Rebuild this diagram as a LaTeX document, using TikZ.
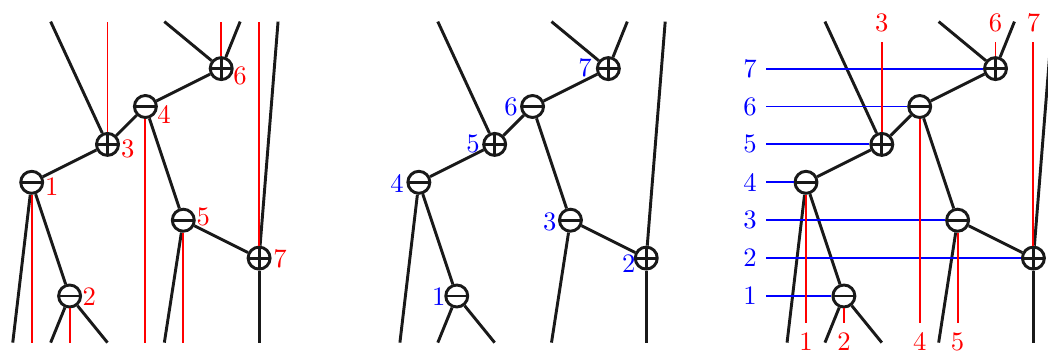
\documentclass[tikz,border=0pt]{standalone}
\tikzset{
  wire/.style={line width=1.1pt, black!90},
  gate/.style={circle, draw=black!90, line width=1.1pt, fill=white, minimum size=0.29cm, inner sep=0pt},
  minusgate/.style={gate, path picture={\draw[line width=1.1pt, black!90] (path picture bounding box.west) -- (path picture bounding box.east);}},
  plusgate/.style={gate, path picture={\draw[line width=1.1pt, black!90] (path picture bounding box.west) -- (path picture bounding box.east) (path picture bounding box.north) -- (path picture bounding box.south);}},
  redwire/.style={red, line width=0.7pt},
  bluewire/.style={blue, line width=0.7pt},
  rlab/.style={text=red, inner sep=0pt, anchor=center},
  blab/.style={text=blue, inner sep=0pt, anchor=center},
}
\newcommand{\drawtree}[2]{%
  \begin{scope}[shift={(#2,0)}]
    \node[minusgate] (#1-1) at (1,4) {};
    \node[minusgate] (#1-2) at (2,1) {};
    \node[plusgate]  (#1-3) at (3,5) {};
    \node[minusgate] (#1-4) at (4,6) {};
    \node[minusgate] (#1-5) at (5,3) {};
    \node[plusgate]  (#1-6) at (6,7) {};
    \node[plusgate]  (#1-7) at (7,2) {};
    \coordinate (#1-e1) at (0.5,-0.23);
    \coordinate (#1-e2) at (1.5,-0.23);
    \coordinate (#1-e3) at (3,-0.23);
    \coordinate (#1-e4) at (1.5,8.24);
    \coordinate (#1-e5) at (4.5,-0.23);
    \coordinate (#1-e6) at (4.5,8.24);
    \coordinate (#1-e7) at (6.5,8.24);
    \coordinate (#1-e8) at (7.5,8.24);
    \coordinate (#1-e9) at (7,-0.23);
    \draw[wire] (#1-1) -- (#1-3);
    \draw[wire] (#1-3) -- (#1-4);
    \draw[wire] (#1-4) -- (#1-6);
    \draw[wire] (#1-1) -- (#1-2);
    \draw[wire] (#1-4) -- (#1-5);
    \draw[wire] (#1-5) -- (#1-7);
    \draw[wire] (#1-1) -- (#1-e1);
    \draw[wire] (#1-2) -- (#1-e2);
    \draw[wire] (#1-2) -- (#1-e3);
    \draw[wire] (#1-3) -- (#1-e4);
    \draw[wire] (#1-5) -- (#1-e5);
    \draw[wire] (#1-6) -- (#1-e6);
    \draw[wire] (#1-6) -- (#1-e7);
    \draw[wire] (#1-7) -- (#1-e8);
    \draw[wire] (#1-7) -- (#1-e9);
  \end{scope}}
\begin{document}
\begin{tikzpicture}[x=0.5cm,y=0.5cm]
\useasboundingbox (0.1636,-0.530) rectangle (27.815,8.810);
\clip (0.1636,-0.530) rectangle (27.815,8.810);

% ---------- panel 1 ----------
\drawtree{a}{0}
\coordinate (ta3) at (3,8.24);
\coordinate (ta6) at (6,8.24);
\coordinate (ta7) at (7,8.24);
\coordinate (ba1) at (1,-0.23);
\coordinate (ba2) at (2,-0.23);
\coordinate (ba4) at (4,-0.23);
\coordinate (ba5) at (5,-0.23);
\draw[redwire] (a-3) -- (ta3);
\draw[redwire] (a-6) -- (ta6);
\draw[redwire] (a-7) -- (ta7);
\draw[redwire] (a-1) -- (ba1);
\draw[redwire] (a-2) -- (ba2);
\draw[redwire] (a-4) -- (ba4);
\draw[redwire] (a-5) -- (ba5);
\node[rlab] (la1) at (1.528,3.884) {1};
\node[rlab] (la2) at (2.520,0.982) {2};
\node[rlab] (la3) at (3.533,4.879) {3};
\node[rlab] (la4) at (4.491,5.802) {4};
\node[rlab] (la5) at (5.528,3.092) {5};
\node[rlab] (la6) at (6.496,6.805) {6};
\node[rlab] (la7) at (7.551,1.995) {7};

% ---------- panel 2 ----------
\drawtree{b}{10.215}
\node[blab] (lb4) at (10.642,3.965) {4};
\node[blab] (lb1) at (11.740,0.982) {1};
\node[blab] (lb5) at (12.642,5.018) {5};
\node[blab] (lb6) at (13.645,5.982) {6};
\node[blab] (lb3) at (14.669,2.955) {3};
\node[blab] (lb7) at (15.598,7.026) {7};
\node[blab] (lb2) at (16.756,1.842) {2};

% ---------- panel 3 ----------
\drawtree{c}{20.43}
\foreach \r in {1,...,7} {\coordinate (s\r) at (20.375,\r);}
\draw[bluewire] (s1) -- (c-2.west);
\draw[bluewire] (s2) -- (c-7.west);
\draw[bluewire] (s3) -- (c-5.west);
\draw[bluewire] (s4) -- (c-1.west);
\draw[bluewire] (s5) -- (c-3.west);
\draw[bluewire] (s6) -- (c-4.west);
\draw[bluewire] (s7) -- (c-6.west);
\foreach \r in {1,...,7} {\node[text=blue, left] (lc\r) at (s\r) {\r};}
\coordinate (tc3) at (23.43,7.715);
\coordinate (tc6) at (26.43,7.715);
\coordinate (tc7) at (27.43,7.715);
\coordinate (bc1) at (21.43,0.28);
\coordinate (bc2) at (22.43,0.28);
\coordinate (bc4) at (24.43,0.28);
\coordinate (bc5) at (25.43,0.28);
\draw[redwire] (c-3) -- (tc3);
\draw[redwire] (c-6) -- (tc6);
\draw[redwire] (c-7) -- (tc7);
\draw[redwire] (c-1) -- (bc1);
\draw[redwire] (c-2) -- (bc2);
\draw[redwire] (c-4) -- (bc4);
\draw[redwire] (c-5) -- (bc5);
\node[text=red, above] (rt3) at (tc3) {3};
\node[text=red, above] (rt6) at (tc6) {6};
\node[text=red, above] (rt7) at (tc7) {7};
\node[text=red, below] (rb1) at (bc1) {1};
\node[text=red, below] (rb2) at (bc2) {2};
\node[text=red, below] (rb4) at (bc4) {4};
\node[text=red, below] (rb5) at (bc5) {5};
\end{tikzpicture}
\end{document}
